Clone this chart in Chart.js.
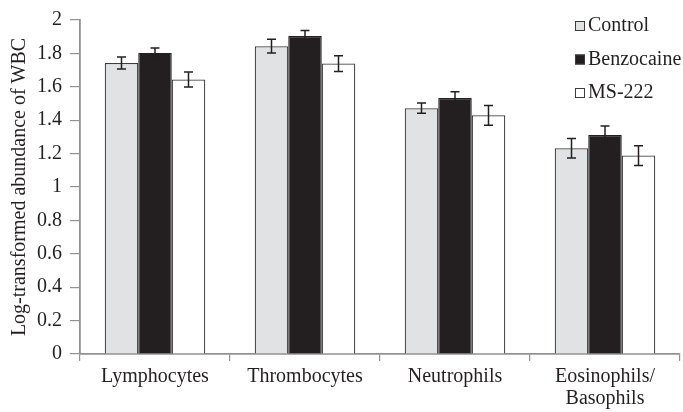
<!DOCTYPE html>
<html lang="en">
<head>
    <meta charset="UTF-8">
    <title>Log-transformed abundance of WBC</title>
    <script src="https://cdn.jsdelivr.net/npm/chart.js"></script>
    <style>
        html, body { margin: 0; padding: 0; background: #fff; }
        #wrap { width: 683px; height: 412px; }
    </style>
</head>
<body>
    <div id="wrap"><canvas id="wbcChart" width="683" height="412"></canvas></div>

    <script>
        // cell types on the x axis
        const cellTypes = [['Lymphocytes'], ['Thrombocytes'], ['Neutrophils'], ['Eosinophils/', 'Basophils']];

        // mean log abundance per treatment
        const controlMeans = [1.742, 1.843, 1.472, 1.232];
        const benzocaineMeans = [1.803, 1.904, 1.533, 1.311];
        const ms222Means = [1.644, 1.739, 1.429, 1.188];

        // standard errors
        const controlErr = [0.036, 0.041, 0.031, 0.058];
        const benzocaineErr = [0.030, 0.033, 0.038, 0.054];
        const ms222Err = [0.045, 0.047, 0.059, 0.059];

        const serif = 'Liberation Serif, Times New Roman, serif';
        const axisGray = '#929292';

        // whiskers, drawn from each bar's own position
        const errorBars = {
            id: 'errorBars',
            afterDatasetsDraw(chart) {
                const ctx = chart.ctx;
                const yScale = chart.scales.y;
                ctx.save();
                ctx.strokeStyle = '#231f20';
                ctx.lineWidth = 1.5;
                chart.data.datasets.forEach((ds, i) => {
                    const meta = chart.getDatasetMeta(i);
                    meta.data.forEach((bar, j) => {
                        const hi = yScale.getPixelForValue(ds.data[j] + ds.errors[j]);
                        const lo = yScale.getPixelForValue(ds.data[j] - ds.errors[j]);
                        const x = bar.x;
                        const cap = 4.5;
                        ctx.beginPath();
                        ctx.moveTo(x, hi); ctx.lineTo(x, lo);
                        ctx.moveTo(x - cap, hi); ctx.lineTo(x + cap, hi);
                        ctx.moveTo(x - cap, lo); ctx.lineTo(x + cap, lo);
                        ctx.stroke();
                    });
                });
                ctx.restore();
            }
        };

        // legend inside the plot, top right
        const innerLegend = {
            id: 'innerLegend',
            afterDraw(chart) {
                const ctx = chart.ctx;
                const area = chart.chartArea;
                const x0 = area.right - 105;
                let y = area.top + 6;
                ctx.save();
                ctx.font = '20px ' + serif;
                ctx.textBaseline = 'middle';
                chart.data.datasets.forEach(ds => {
                    ctx.fillStyle = ds.backgroundColor;
                    ctx.fillRect(x0, y - 5, 10, 10);
                    ctx.strokeStyle = '#3c3c3c';
                    ctx.lineWidth = 1;
                    ctx.strokeRect(x0 + 0.5, y - 4.5, 9, 9);
                    ctx.fillStyle = '#231f20';
                    ctx.fillText(ds.label, x0 + 13, y);
                    y += 33.5;
                });
                ctx.restore();
            }
        };

        const ctx = document.getElementById('wbcChart').getContext('2d');

        new Chart(ctx, {
            type: 'bar',
            data: {
                labels: cellTypes,
                datasets: [{
                    label: 'Control',
                    data: controlMeans,
                    errors: controlErr,
                    backgroundColor: '#e1e2e4',
                    borderColor: '#3c3c3c',
                    borderWidth: 1.2
                }, {
                    label: 'Benzocaine',
                    data: benzocaineMeans,
                    errors: benzocaineErr,
                    backgroundColor: '#231f20',
                    borderColor: '#231f20',
                    borderWidth: 1.2
                }, {
                    label: 'MS-222',
                    data: ms222Means,
                    errors: ms222Err,
                    backgroundColor: '#ffffff',
                    borderColor: '#3c3c3c',
                    borderWidth: 1.2
                }]
            },
            options: {
                responsive: false,
                animation: false,
                layout: { padding: { top: 15, right: 3, left: 0, bottom: 0 } },
                datasets: {
                    bar: { categoryPercentage: 0.67, barPercentage: 1.0 }
                },
                plugins: {
                    legend: { display: false },
                    tooltip: { enabled: false }
                },
                scales: {
                    x: {
                        grid: {
                            offset: true,
                            drawOnChartArea: false,
                            color: axisGray,
                            tickLength: 7,
                            lineWidth: 1.2
                        },
                        border: { color: axisGray, width: 1.8 },
                        ticks: {
                            color: '#231f20',
                            font: { family: serif, size: 20, lineHeight: 1.1 },
                            padding: 5,
                            maxRotation: 0,
                            autoSkip: false
                        },
                        afterFit(scale) { scale.height = 58; }
                    },
                    y: {
                        min: 0,
                        max: 2,
                        grid: {
                            drawOnChartArea: false,
                            color: axisGray,
                            tickLength: 10,
                            lineWidth: 1.2
                        },
                        border: { color: axisGray, width: 1.8 },
                        ticks: {
                            stepSize: 0.2,
                            color: '#231f20',
                            font: { family: serif, size: 20 },
                            padding: 8,
                            callback: v => String(Math.round(v * 10) / 10)
                        },
                        title: {
                            display: true,
                            text: 'Log-transformed abundance of WBC',
                            color: '#231f20',
                            font: { family: serif, size: 20 },
                            padding: { top: 8, bottom: 0 }
                        },
                        afterFit(scale) { scale.width = 80; }
                    }
                }
            },
            plugins: [errorBars, innerLegend]
        });
    </script>
</body>
</html>
